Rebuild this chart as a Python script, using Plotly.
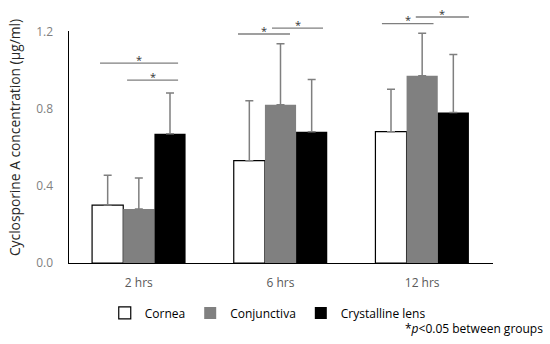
import plotly.graph_objects as go

categories = ["2 hrs", "6 hrs", "12 hrs"]
cornea = [0.30, 0.53, 0.68]
cornea_err = [0.155, 0.31, 0.22]
conjunctiva = [0.28, 0.82, 0.97]
conjunctiva_err = [0.16, 0.315, 0.22]
lens = [0.67, 0.68, 0.78]
lens_err = [0.21, 0.27, 0.30]

# significance brackets: (category index, start offset, end offset, y level)
brackets = [
    (0, -0.274, 0.277, 1.035),
    (0, -0.083, 0.277, 0.947),
    (1, -0.30, 0.067, 1.186),
    (1, -0.06, 0.30, 1.216),
    (2, -0.284, 0.08, 1.24),
    (2, -0.045, 0.33, 1.274),
]

FONT = "Open Sans"
YMAX_AXIS = 1.2
YMAX_PLOT = 1.3
err_style = dict(type="data", symmetric=False, color="#7f7f7f",
                 thickness=1.5, width=4)

fig = go.Figure()
fig.add_trace(go.Bar(name="Cornea", x=categories, y=cornea,
                     marker=dict(color="white", line=dict(color="black", width=1.2)),
                     error_y=dict(array=cornea_err, arrayminus=[0]*3, **err_style)))
fig.add_trace(go.Bar(name="Conjunctiva", x=categories, y=conjunctiva,
                     marker=dict(color="#808080", line=dict(width=0)),
                     error_y=dict(array=conjunctiva_err, arrayminus=[0]*3, **err_style)))
fig.add_trace(go.Bar(name="Crystalline lens", x=categories, y=lens,
                     marker=dict(color="black", line=dict(width=0)),
                     error_y=dict(array=lens_err, arrayminus=[0]*3, **err_style)))
# invisible trace carrying the visible y axis line (0 - 1.2)
fig.add_trace(go.Scatter(x=[categories[0]], y=[0], yaxis="y2", mode="markers",
                         marker=dict(opacity=0), showlegend=False, hoverinfo="skip"))

for ci, a, b, yv in brackets:
    fig.add_shape(type="line", xref="x", yref="y", x0=ci + a, x1=ci + b,
                  y0=yv, y1=yv, line=dict(color="#7f7f7f", width=1.3))
    fig.add_annotation(x=ci + (a + b) / 2, y=yv, xref="x", yref="y",
                       text="*", showarrow=False, yanchor="middle", yshift=4,
                       font=dict(size=11, color="#333333", family=FONT))

fig.add_annotation(xref="paper", yref="paper", x=1.122, y=-0.261,
                   xanchor="right", yanchor="middle", showarrow=False,
                   text="*<i>p</i><0.05 between groups",
                   font=dict(size=12, color="black", family=FONT))

fig.update_layout(
    width=550, height=344,
    margin=dict(l=68, r=57, t=12, b=81),
    paper_bgcolor="white", plot_bgcolor="rgba(0,0,0,0)",
    barmode="group", bargap=0.34, bargroupgap=0,
    font=dict(family=FONT, color="#595959"),
    showlegend=True,
    legend=dict(orientation="h", x=0.47, xanchor="center", y=-0.141, yanchor="top",
                font=dict(size=12, color="black", family=FONT),
                itemwidth=30, tracegroupgap=0),
    xaxis=dict(showline=True, linecolor="black", linewidth=1.4, ticks="",
               tickfont=dict(size=12, color="#595959"), ticklabelstandoff=8,
               range=[-0.5, 2.5]),
    yaxis=dict(range=[0, YMAX_PLOT], tickvals=[0, 0.4, 0.8, 1.2],
               ticktext=["0.0", "0.4", "0.8", "1.2"], showgrid=False,
               zeroline=False, showline=False, ticks="",
               ticklabelstandoff=14,
               tickfont=dict(size=12, color="#7f7f7f"),
               title=dict(text="Cyclosporine A concentration (μg/ml)",
                          font=dict(size=13.8, color="#262626"), standoff=12)),
    yaxis2=dict(range=[0, YMAX_AXIS], domain=[0, YMAX_AXIS / YMAX_PLOT],
                anchor="free", position=0, showline=True, linecolor="black",
                linewidth=1.4, showticklabels=False, ticks="", showgrid=False,
                zeroline=False),
)

# remove the browser's default 8px body margin so the figure fills the window
fig.write_html("out.html", config={"displayModeBar": False},
               post_script="document.body.style.margin='0';")
